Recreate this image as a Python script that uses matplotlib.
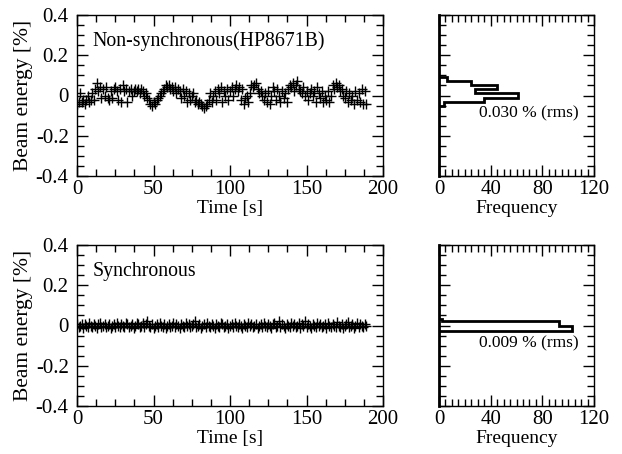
import matplotlib
matplotlib.use("Agg")
import matplotlib.pyplot as plt
from matplotlib.ticker import MultipleLocator
import numpy as np

# beam energy deviation [%], one sample per second
nonsync_energy = [
    -0.04, -0.03, 0.01, -0.03, -0.02, -0.04, -0.02, 0.00, -0.03, -0.02,
    0.01, -0.02, 0.03, 0.06, 0.02, 0.04, -0.01, 0.03, 0.00, 0.04,
    -0.01, -0.02, 0.02, -0.01, 0.03, 0.04, 0.02, -0.02, 0.03, -0.03,
    0.05, 0.02, 0.03, -0.03, 0.02, 0.03, 0.00, 0.02, 0.03, 0.02,
    0.03, 0.01, 0.03, 0.02, 0.00, 0.01, -0.01, -0.02, -0.04, -0.05,
    -0.03, -0.04, -0.02, -0.01, 0.00, 0.01, 0.02, 0.03, 0.05, 0.04,
    0.05, 0.03, 0.04, 0.02, 0.04, 0.01, 0.03, 0.02, -0.01, 0.03,
    0.00, 0.02, -0.03, 0.01, -0.02, 0.00, 0.01, -0.03, -0.02, -0.04,
    -0.03, -0.04, -0.05, -0.06, -0.05, -0.04, -0.02, 0.01, -0.03, 0.00,
    0.02, -0.02, 0.03, 0.01, 0.04, -0.03, 0.02, 0.00, 0.03, -0.02,
    0.02, 0.04, 0.00, 0.03, 0.05, 0.02, 0.04, -0.02, 0.03, -0.04,
    -0.01, 0.00, -0.03, 0.01, 0.05, 0.04, 0.05, 0.06, 0.03, 0.01,
    0.02, 0.00, -0.02, 0.01, -0.03, 0.02, -0.04, 0.00, 0.04, 0.02,
    -0.02, 0.03, 0.00, -0.03, 0.02, -0.01, 0.01, -0.03, 0.03, 0.05,
    0.04, 0.06, 0.02, 0.05, 0.07, 0.03, 0.02, 0.01, 0.04, 0.00,
    0.02, -0.02, 0.01, 0.03, 0.00, 0.02, -0.03, 0.04, 0.01, -0.01,
    0.02, -0.03, 0.00, -0.02, 0.02, -0.03, 0.00, 0.05, 0.03, 0.06,
    0.04, 0.05, 0.02, 0.03, 0.00, -0.01, 0.02, -0.03, 0.01, -0.02,
    0.00, -0.04, 0.02, -0.02, 0.01, -0.03, 0.03, -0.04, 0.02, -0.04,
]

sync_energy = [
    0.005, -0.005, 0.000, 0.005, -0.010, 0.005, 0.000, -0.005, 0.010, 0.000,
    -0.005, 0.005, 0.000, -0.010, 0.005, 0.010, -0.005, 0.000, 0.005, -0.005,
    0.000, 0.005, -0.010, 0.000, 0.005, -0.005, 0.010, 0.000, -0.005, 0.005,
    0.000, -0.005, 0.010, 0.005, -0.005, 0.000, 0.005, -0.010, 0.000, 0.010,
    0.005, -0.005, 0.000, 0.010, -0.005, 0.005, 0.020, 0.000, -0.005, 0.005,
    -0.010, 0.000, 0.005, -0.005, 0.010, 0.000, -0.005, 0.005, -0.010, 0.000,
    0.005, -0.005, 0.000, 0.010, -0.005, 0.005, 0.000, -0.010, 0.005, 0.000,
    -0.005, 0.010, 0.000, 0.005, -0.005, 0.000, 0.005, 0.020, -0.005, 0.000,
    0.005, -0.010, 0.000, 0.005, -0.005, 0.010, 0.000, -0.005, 0.005, 0.000,
    -0.010, 0.005, 0.000, -0.005, 0.010, 0.005, -0.005, 0.000, 0.005, -0.010,
    0.000, 0.005, -0.005, 0.010, 0.000, -0.005, 0.005, 0.000, -0.010, 0.005,
    0.000, -0.005, 0.010, 0.000, 0.005, -0.005, 0.000, 0.005, -0.010, 0.000,
    0.005, -0.005, 0.010, 0.000, -0.005, 0.005, 0.000, -0.010, 0.005, 0.010,
    -0.005, 0.000, 0.020, -0.005, 0.005, 0.000, -0.010, 0.005, 0.000, -0.005,
    0.010, 0.000, 0.005, -0.005, 0.000, 0.010, -0.010, 0.005, 0.000, 0.020,
    -0.005, 0.005, 0.000, -0.010, 0.005, 0.000, -0.005, 0.010, 0.000, 0.005,
    -0.005, 0.000, 0.005, -0.010, 0.010, 0.000, -0.005, 0.005, 0.000, -0.005,
    0.015, 0.000, -0.005, 0.005, -0.010, 0.000, 0.005, 0.015, -0.005, 0.000,
    0.005, -0.010, 0.000, 0.010, -0.005, 0.005, 0.000, -0.005, 0.005, 0.000,
]

# histogram bins (energy edges [%]) and counts
nonsync_edges = [-0.05, -0.03, -0.01, 0.01, 0.03, 0.05, 0.07, 0.09]
nonsync_counts = [4, 35, 61, 28, 45, 25, 6]
sync_edges = [-0.025, 0.0, 0.02, 0.03]
sync_counts = [103, 93, 2]

titles = ["Non-synchronous(HP8671B)", "Synchronous"]
rms_labels = ["0.030 % (rms)", "0.009 % (rms)"]

plt.rcParams['font.family'] = ['Liberation Serif', 'DejaVu Serif']
plt.rcParams['font.size'] = 12.5

fig = plt.figure(figsize=(6.22, 4.54), dpi=100)
W, H = 622, 454


def add_ax(x0, y0, x1, y1):
    return fig.add_axes([x0 / W, 1 - y1 / H, (x1 - x0) / W, (y1 - y0) / H])


def style(ax):
    ax.tick_params(which='both', direction='in', top=True, right=True,
                   width=1, colors='k', labelsize=15)
    ax.tick_params(axis='x', pad=3)
    ax.tick_params(axis='y', pad=6)
    ax.tick_params(which='major', length=8)
    ax.tick_params(which='minor', length=5)
    for s in ax.spines.values():
        s.set_linewidth(1.0)


series = [nonsync_energy, sync_energy]
hists = [(nonsync_edges, nonsync_counts), (sync_edges, sync_counts)]
tops = [15, 245]

for i in range(2):
    y0 = tops[i]
    ax = add_ax(77, y0, 383, y0 + 161)
    t = np.arange(len(series[i]))
    ax.plot(t, series[i], ls='none', marker='+', ms=6.5, mew=1.0, color='k')
    ax.set_xlim(0, 200)
    ax.set_ylim(-0.4, 0.4)
    ax.xaxis.set_major_locator(MultipleLocator(50))
    ax.xaxis.set_minor_locator(MultipleLocator(12.5))
    ax.yaxis.set_minor_locator(MultipleLocator(0.05))
    ax.set_yticks([-0.4, -0.2, 0, 0.2, 0.4])
    ax.set_yticklabels(['-0.4', '-0.2', '0', '0.2', '0.4'])
    ax.set_xlabel("Time [s]", fontsize=14, labelpad=0.5)
    ax.set_ylabel("Beam energy [%]", fontsize=15.5, labelpad=2)
    ax.text(10, 0.27, titles[i], va='center', ha='left', fontsize=14.3)
    style(ax)

    hx = add_ax(439, y0, 594, y0 + 161)
    edges, counts = hists[i]
    hx.stairs(counts, edges, orientation='horizontal', baseline=0,
              color='k', lw=2)
    hx.set_xlim(0, 120)
    hx.set_ylim(-0.4, 0.4)
    hx.xaxis.set_major_locator(MultipleLocator(40))
    hx.xaxis.set_minor_locator(MultipleLocator(5))
    hx.yaxis.set_major_locator(MultipleLocator(0.2))
    hx.yaxis.set_minor_locator(MultipleLocator(0.05))
    hx.set_yticklabels([])
    hx.set_xlabel("Frequency", fontsize=14, labelpad=0.5)
    hx.text(31, -0.087, rms_labels[i], va='center', ha='left')
    style(hx)
    hx.spines['left'].set_linewidth(2)

fig.savefig("out.png", dpi=100)
